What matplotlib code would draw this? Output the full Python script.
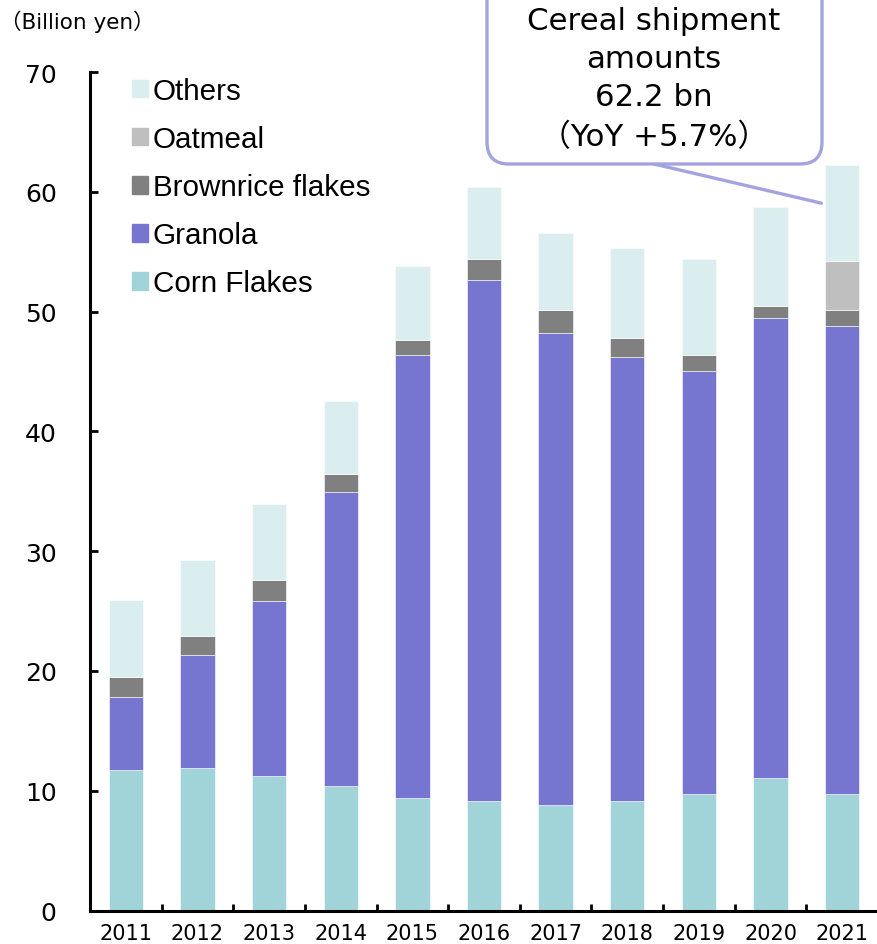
import matplotlib
matplotlib.use("Agg")
import matplotlib.pyplot as plt
from matplotlib.patches import FancyBboxPatch, Patch
import numpy as np

years = ["2011", "2012", "2013", "2014", "2015", "2016", "2017", "2018", "2019", "2020", "2021"]
corn_flakes = [11.7, 11.9, 11.2, 10.4, 9.4, 9.1, 8.8, 9.1, 9.7, 11.1, 9.7]
granola = [6.1, 9.4, 14.6, 24.5, 37.0, 43.5, 39.4, 37.1, 35.3, 38.4, 39.1]
brownrice = [1.7, 1.6, 1.8, 1.5, 1.25, 1.8, 1.9, 1.6, 1.4, 1.0, 1.3]
oatmeal = [0, 0, 0, 0, 0, 0, 0, 0, 0, 0, 4.15]
others = [6.4, 6.4, 6.3, 6.1, 6.15, 6.0, 6.5, 7.5, 8.0, 8.2, 8.0]
yticks = [0, 10, 20, 30, 40, 50, 60, 70]

series = [
    ("Corn Flakes", corn_flakes, "#a0d4d8"),
    ("Granola", granola, "#7676d0"),
    ("Brownrice flakes", brownrice, "#808080"),
    ("Oatmeal", oatmeal, "#bfbfbf"),
    ("Others", others, "#daedef"),
]

W, H = 878, 945
fig = plt.figure(figsize=(W / 100, H / 100), dpi=100)
ax = fig.add_axes([90 / W, (H - 911.5) / H, (878 - 90) / W, (911.5 - 73) / H])

x = np.arange(len(years))
bottom = np.zeros(len(years))
for name, vals, col in series:
    v = np.array(vals, dtype=float)
    ax.bar(x, v, width=0.48, bottom=bottom, color=col, edgecolor="white", linewidth=0.4, label=name)
    bottom += v

ax.set_xlim(-0.5, len(years) - 0.5)
ax.set_ylim(0, 70)
ax.set_yticks(yticks)
ax.set_yticklabels([str(t) for t in yticks], fontsize=18, family="DejaVu Sans")
ax.set_xticks(x)
ax.set_xticklabels(years, fontsize=15, family="DejaVu Sans")
ax.set_xticks(np.arange(len(years) + 1) - 0.5, minor=True)
ax.tick_params(axis="x", which="major", length=0, pad=9)
ax.tick_params(axis="x", which="minor", direction="in", length=5, width=2)
ax.tick_params(axis="y", direction="in", length=6, width=2, pad=24)
for s in ["top", "right"]:
    ax.spines[s].set_visible(False)
for s in ["left", "bottom"]:
    ax.spines[s].set_linewidth(2.2)

handles = [Patch(color=c) for _, _, c in series][::-1]
labels = [n for n, _, _ in series][::-1]
ax.legend(handles, labels, loc="upper left", bbox_to_anchor=(132 / W, 1 - 78 / H),
          bbox_transform=fig.transFigure, frameon=False, borderpad=0, borderaxespad=0,
          handlelength=0.54, handleheight=0.54, handletextpad=0.16, labelspacing=0.68,
          prop={"family": "Liberation Sans", "size": 21.3})

fig.text(0, 1 - 22 / H, "（Billion yen）", fontsize=15.5, ha="left", va="center",
         family=["DejaVu Sans", "Noto Sans CJK JP"])

# callout box
box = FancyBboxPatch((487 / W, 1 - 165 / H), (822 - 487) / W, 185 / H,
                     boxstyle="round,pad=0,rounding_size=0.025", transform=fig.transFigure,
                     facecolor="white", edgecolor="#a3a3e0", linewidth=2.4, zorder=5,
                     mutation_aspect=W / H)
fig.patches.append(box)
lines = ["Cereal shipment", "amounts", "62.2 bn", "（YoY +5.7%）"]
ys = [22, 60, 98, 137]
for t, yy in zip(lines, ys):
    fig.text(654 / W, 1 - yy / H, t, fontsize=22.2, ha="center", va="center", zorder=6,
             family=["DejaVu Sans", "Noto Sans CJK JP"])
ax.annotate("", xy=(9.71, 59.05), xytext=(654 / W, 1 - 165 / H), textcoords="figure fraction",
            arrowprops=dict(arrowstyle="-", color="#a3a3e0", lw=2.4, shrinkA=0, shrinkB=0),
            annotation_clip=False, zorder=4)

fig.savefig("out.png", dpi=100)
